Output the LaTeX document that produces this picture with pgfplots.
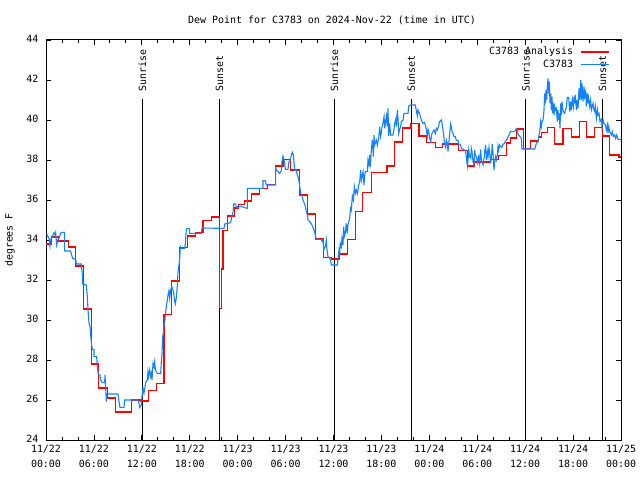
\documentclass[border=0pt]{standalone}
\usepackage{pgfplots}
\pgfplotsset{compat=1.18}
\usepackage{fontspec}
\setmainfont{DejaVu Sans Mono}
\definecolor{anared}{RGB}{255,0,0}
\definecolor{obsblue}{RGB}{20,130,255}
\begin{document}
\fontsize{10}{12}\selectfont
\begin{tikzpicture}
\path[use as bounding box] (0,0) rectangle (640bp,480bp);
\begin{axis}[
  at={(46bp,40bp)}, anchor=south west,
  scale only axis, width=575bp, height=400bp,
  xmin=0, xmax=72, ymin=24, ymax=44,
  xtick={0,6,...,72},
  xticklabels={{11/22\\00:00},{11/22\\06:00},{11/22\\12:00},{11/22\\18:00},{11/23\\00:00},{11/23\\06:00},{11/23\\12:00},{11/23\\18:00},{11/24\\00:00},{11/24\\06:00},{11/24\\12:00},{11/24\\18:00},{11/25\\00:00}},
  xticklabel style={align=center, font=\fontsize{10}{15}\selectfont, yshift=-2bp},
  minor x tick num=2,
  ytick={24,26,...,44},
  yticklabel style={font=\fontsize{10}{12}\selectfont, xshift=-4bp, yshift=1bp},
  /pgf/number format/assume math mode=true,
  tick align=inside,
  major tick length=5bp, minor tick length=3bp,
  tick style={black, line width=0.8bp},
  axis line style={black, line width=1bp},
  legend plot pos=right,
  legend cell align=right,
  legend style={draw=none, fill=none, at={(rel axis cs:1,1)}, anchor=north east,
    xshift=-11bp, yshift=-7bp, inner sep=0pt, row sep=3.5bp,
    nodes={inner sep=0pt, text height=7.5bp, text depth=2bp, font=\fontsize{10}{12}\selectfont}},
  legend image code/.code={\path[draw=none, fill=none] (0bp,-2bp) rectangle (36bp,2bp); \draw[#1] (8bp,0bp) -- (36bp,0bp);},
]
% Sunrise / Sunset lines
\addplot[black, line width=1bp, forget plot] coordinates {(12.07,24) (12.07,41.05)};
\addplot[black, line width=1bp, forget plot] coordinates {(21.72,24) (21.72,41.05)};
\addplot[black, line width=1bp, forget plot] coordinates {(36.1,24) (36.1,41.05)};
\addplot[black, line width=1bp, forget plot] coordinates {(45.74,24) (45.74,41.05)};
\addplot[black, line width=1bp, forget plot] coordinates {(60.1,24) (60.1,41.05)};
\addplot[black, line width=1bp, forget plot] coordinates {(69.67,24) (69.67,41.05)};
% Analysis (red)
\addplot[color=anared, line width=1.1bp, const plot, forget plot] coordinates {
(0,33.8) (0.67,34.15) (1.6,33.95) (2.8,33.65) (3.75,32.7) (4.75,30.55) (5.7,27.8) (6.6,26.6)
(7.7,26.1) (8.7,25.4) (10.7,26.0) (11.85,25.95) (12.8,26.47) (13.8,26.83) (14.78,30.28)
(15.7,31.95) (16.74,33.62) (17.7,34.2) (18.7,34.38) (19.66,34.97) (20.7,35.15) (21.75,30.58)
(21.96,32.55) (22.16,34.47) (22.7,35.2) (23.65,35.6) (24.05,35.78) (24.8,35.95) (25.7,36.3)
(26.76,36.58) (27.7,36.78) (28.76,37.7) (29.68,38.03) (30.64,37.5) (31.76,36.25) (32.8,35.3)
(33.77,34.05) (34.77,33.13) (35.73,33.05) (36.69,33.3) (37.73,34.03) (38.74,35.42) (39.68,36.38)
(40.72,37.37) (42.7,37.7) (43.66,38.9) (44.62,39.6) (45.7,39.83) (46.7,39.2) (47.7,38.88)
(48.75,38.63) (49.7,38.8) (51.7,38.47) (52.76,37.7) (53.7,37.9) (55.7,38.02) (56.64,38.22)
(57.65,38.85) (58.2,39.1) (58.9,39.55) (59.75,38.58) (60.7,38.95) (61.7,39.15) (62.0,39.37)
(62.8,39.63) (63.7,38.8) (64.74,39.58) (65.75,39.15) (66.75,39.93) (67.7,39.15) (68.72,39.62)
(69.72,39.2) (70.6,38.25) (71.75,38.15) (72,38.15)
};
% Observations (blue)
\addplot[color=obsblue, line width=1.1bp, forget plot] coordinates {
(0.083,34.30) (0.25,34.17) (0.376,34.08) (0.501,33.70) (0.584,34.03) (0.793,34.17) (1.002,34.37)
(1.127,34.25) (1.21,34.37) (1.336,33.75) (1.503,34.03) (1.628,34.08) (1.837,34.33) (1.92,34.38)
(2.338,34.38) (2.338,33.45) (3.089,33.45) (3.172,33.3) (3.34,33.08) (3.716,33.03) (3.8,32.8)
(4.424,32.8) (4.55,32.25) (4.59,31.8) (5.05,31.75) (5.175,31.17) (5.26,30.5) (5.385,29.83)
(5.51,29.67) (5.593,29.25) (5.718,28.75) (5.8,28.53) (6.01,28.53) (6.01,28.17) (6.343,28.17)
(6.427,27.67) (6.552,27.25) (6.761,27.25) (6.844,27.0) (7.053,26.87) (7.345,26.87) (7.387,27.25)
(7.47,26.67) (7.554,25.92) (7.596,26.3) (9.015,26.3) (9.14,25.92) (9.266,25.63) (9.767,25.63)
(9.85,26.0) (11.52,26.0) (11.645,25.83) (11.73,25.63) (11.94,25.75) (12.02,26.17) (12.15,26.58)
(12.27,26.33) (12.36,26.58) (12.52,26.92) (12.69,27.0) (12.77,27.42) (12.86,27.17) (12.98,27.5)
(13.11,27.17) (13.19,27.33) (13.27,27.0) (13.4,27.83) (13.52,27.67) (13.61,27.92) (13.69,27.5)
(13.81,27.42) (13.94,27.33) (14.36,27.33) (14.44,27.92) (14.52,28.25) (14.61,29.17) (14.69,29.33)
(14.78,29.83) (14.86,29.83) (14.94,30.25) (15.07,30.67) (15.19,31.0) (15.28,31.25) (15.4,31.47)
(15.49,31.08) (15.61,31.5) (15.69,31.58) (15.78,31.63) (15.9,31.5) (16.03,31.25) (16.11,30.92)
(16.2,30.8) (16.32,31.13) (16.45,31.75) (16.53,32.42) (16.61,32.62) (16.74,33.03) (16.82,33.67)
(16.95,33.58) (17.37,33.58) (17.45,33.83) (17.57,34.53) (17.7,34.58) (17.99,34.58) (17.99,34.33)
(19.45,34.33) (19.53,34.6) (22.29,34.58) (22.37,34.8) (22.79,34.83) (23.12,34.87) (23.29,35.2)
(23.42,35.4) (23.5,35.8) (23.75,35.8) (23.83,35.63) (24.04,35.67) (24.46,35.67) (25.21,35.58)
(25.21,36.58) (27.17,36.58) (27.17,36.97) (27.46,36.97) (27.59,36.75) (28.76,36.75) (28.76,37.67)
(28.84,37.5) (29.05,37.42) (29.26,37.33) (29.47,37.47) (29.55,37.92) (29.68,38.2) (29.8,38.0)
(29.89,37.83) (29.97,37.53) (30.3,37.53) (30.43,37.92) (30.59,38.0) (30.72,38.25) (30.85,38.38)
(30.97,38.25) (31.06,37.83) (31.14,37.5) (31.35,37.47) (31.47,37.25) (31.64,37.03) (31.77,36.67)
(31.89,36.33) (32.06,36.2) (32.18,36.0) (32.31,35.87) (32.48,35.67) (32.6,35.42) (32.73,35.25)
(32.81,35.0) (33.02,34.92) (33.23,34.8) (33.44,34.63) (33.56,34.5) (33.73,34.25) (33.85,34.03)
(34.48,34.03) (34.56,33.92) (34.69,34.0) (34.77,33.5) (34.98,33.67) (35.1,34.0) (35.19,33.5)
(35.31,33.17) (35.52,33.08) (35.65,32.97) (35.73,32.75) (36.48,32.75) (36.56,33.08) (36.69,33.5)
(36.77,33.33) (36.85,33.83) (36.98,33.67) (37.06,34.08) (37.19,33.75) (37.27,34.67) (37.36,34.17)
(37.48,34.33) (37.6,34.83) (37.73,34.33) (37.81,34.75) (38.02,35.08) (38.15,35.58) (38.23,35.5)
(38.36,36.2) (38.49,36.0) (38.61,36.67) (38.74,36.33) (38.86,36.5) (38.99,36.33) (39.16,36.75)
(39.28,36.92) (39.4,37.5) (39.49,37.0) (39.61,37.25) (39.7,37.42) (39.82,36.75) (39.91,37.25)
(39.99,37.42) (40.24,37.42) (40.32,38.0) (40.45,37.75) (40.53,38.25) (40.61,37.67) (40.74,38.5)
(40.86,39.0) (40.99,38.17) (41.07,39.25) (41.16,38.75) (41.36,39.0) (41.49,38.75) (41.57,38.92)
(41.66,39.08) (41.78,39.67) (41.91,39.17) (41.99,39.37) (42.07,39.63) (42.2,39.87) (42.33,40.17)
(42.41,39.58) (42.49,39.83) (42.62,40.2) (42.74,39.67) (42.82,40.58) (42.91,39.2) (43.03,39.83)
(43.16,39.25) (43.45,39.25) (43.58,39.58) (43.66,39.83) (43.79,40.03) (43.87,39.67) (44.0,40.5)
(44.08,40.08) (44.16,39.33) (44.29,39.53) (44.41,39.67) (44.5,39.92) (44.71,40.0) (44.83,40.33)
(45.33,40.33) (45.42,40.7) (45.67,40.75) (46.25,40.75) (46.37,40.47) (46.5,40.2) (46.58,40.5)
(46.79,40.3) (47.0,40.0) (47.21,39.83) (47.41,39.87) (47.62,39.53) (47.75,39.2) (47.83,39.53)
(47.92,39.42) (48.04,39.08) (48.17,38.92) (48.33,39.33) (48.46,39.42) (48.59,39.5) (48.75,39.33)
(48.88,39.58) (49.0,39.5) (49.17,39.7) (49.29,39.92) (49.42,39.97) (49.51,40.0) (49.59,39.83)
(49.71,39.5) (49.84,39.08) (49.92,38.8) (50.05,38.63) (50.13,39.0) (50.26,38.83) (50.34,38.42)
(50.43,38.83) (50.55,39.33) (50.68,39.8) (50.76,39.63) (50.84,39.42) (50.97,39.33) (51.09,39.17)
(51.26,39.17) (51.38,38.97) (51.59,38.97) (51.67,38.8) (51.92,38.75) (52.01,38.58) (52.43,38.5)
(52.51,38.47) (52.63,38.17) (52.76,37.7) (52.84,37.97) (52.93,38.5) (53.05,38.17) (53.18,38.08)
(53.26,38.58) (53.34,38.42) (53.47,37.92) (53.59,37.75) (53.68,38.5) (53.76,38.25) (53.89,38.17)
(54.01,37.87) (54.18,38.17) (54.3,37.83) (54.43,38.53) (54.51,38.0) (54.72,37.75) (54.85,38.08)
(54.93,38.42) (55.05,38.75) (55.14,38.0) (55.26,38.42) (55.35,38.17) (55.47,38.63) (55.6,38.17)
(55.68,37.83) (55.77,38.17) (55.89,38.8) (56.02,38.0) (56.1,37.5) (56.19,37.92) (56.31,38.17)
(56.39,38.0) (56.52,38.25) (56.6,38.7) (56.69,38.5) (56.81,38.75) (56.94,38.67) (57.1,38.63)
(57.23,38.8) (57.35,38.8) (57.52,38.92) (57.65,39.0) (57.77,39.03) (57.86,39.17) (57.98,39.25)
(58.15,39.42) (58.69,39.42) (58.81,39.53) (58.98,39.58) (59.1,39.3) (59.52,39.08) (59.6,38.55)
(61.19,38.55) (61.27,38.63) (61.4,38.83) (61.61,38.92) (61.69,39.17) (61.82,39.42) (61.94,39.92)
(62.03,39.67) (62.11,39.92) (62.24,40.0) (62.36,40.5) (62.44,41.33) (62.53,40.83) (62.61,41.5)
(62.69,41.0) (62.78,41.67) (62.86,42.08) (62.95,41.33) (63.03,41.92) (63.11,40.83) (63.2,41.33)
(63.28,40.5) (63.36,41.17) (63.44,40.33) (63.53,40.83) (63.61,40.25) (63.7,40.67) (63.78,40.5)
(63.9,40.58) (64.03,39.92) (64.11,40.5) (64.2,40.0) (64.28,40.33) (64.36,39.58) (64.45,40.83)
(64.53,40.25) (64.61,40.92) (64.7,40.58) (64.78,40.42) (64.95,40.33) (65.16,40.67) (65.28,41.13)
(65.45,41.13) (65.57,40.42) (65.7,40.92) (65.78,40.5) (65.91,41.03) (66.03,40.67) (66.12,41.17)
(66.2,40.83) (66.28,41.25) (66.41,40.5) (66.53,41.0) (66.62,40.58) (66.74,41.58) (66.83,41.0)
(66.95,42.0) (67.04,41.0) (67.12,41.83) (67.24,40.92) (67.37,41.67) (67.45,41.17) (67.58,41.42)
(67.66,40.67) (67.79,41.33) (67.87,40.83) (67.95,41.08) (68.08,40.67) (68.2,41.0) (68.29,40.5)
(68.5,40.83) (68.62,40.5) (68.71,40.42) (68.79,40.67) (68.92,40.08) (69.04,40.5) (69.12,40.25)
(69.25,40.33) (69.37,39.92) (69.54,40.03) (69.62,39.67) (69.75,40.03) (69.87,39.83) (70.04,39.75)
(70.17,39.5) (70.29,39.75) (70.37,39.33) (70.46,39.67) (70.58,39.42) (70.71,39.33) (70.79,39.25)
(70.91,39.42) (71.04,39.17) (71.2,39.25) (71.33,39.08) (71.45,39.25) (71.62,39.03) (72,39.03)
};
\addlegendimage{color=anared, line width=1.2bp}
\addlegendentry{C3783 Analysis}
\addlegendimage{color=obsblue, line width=1.1bp}
\addlegendentry{C3783}
\node[rotate=90, anchor=west, inner sep=0pt] at (axis cs:12.07,41.4) {Sunrise};
\node[rotate=90, anchor=west, inner sep=0pt] at (axis cs:21.72,41.4) {Sunset};
\node[rotate=90, anchor=west, inner sep=0pt] at (axis cs:36.1,41.4) {Sunrise};
\node[rotate=90, anchor=west, inner sep=0pt] at (axis cs:45.74,41.4) {Sunset};
\node[rotate=90, anchor=west, inner sep=0pt] at (axis cs:60.1,41.4) {Sunrise};
\node[rotate=90, anchor=west, inner sep=0pt] at (axis cs:69.67,41.4) {Sunset};
\end{axis}
\node at (332bp,460bp) {Dew Point for C3783 on 2024-Nov-22 (time in UTC)};
\node[rotate=90] at (10bp,240bp) {degrees F};
\end{tikzpicture}
\end{document}
